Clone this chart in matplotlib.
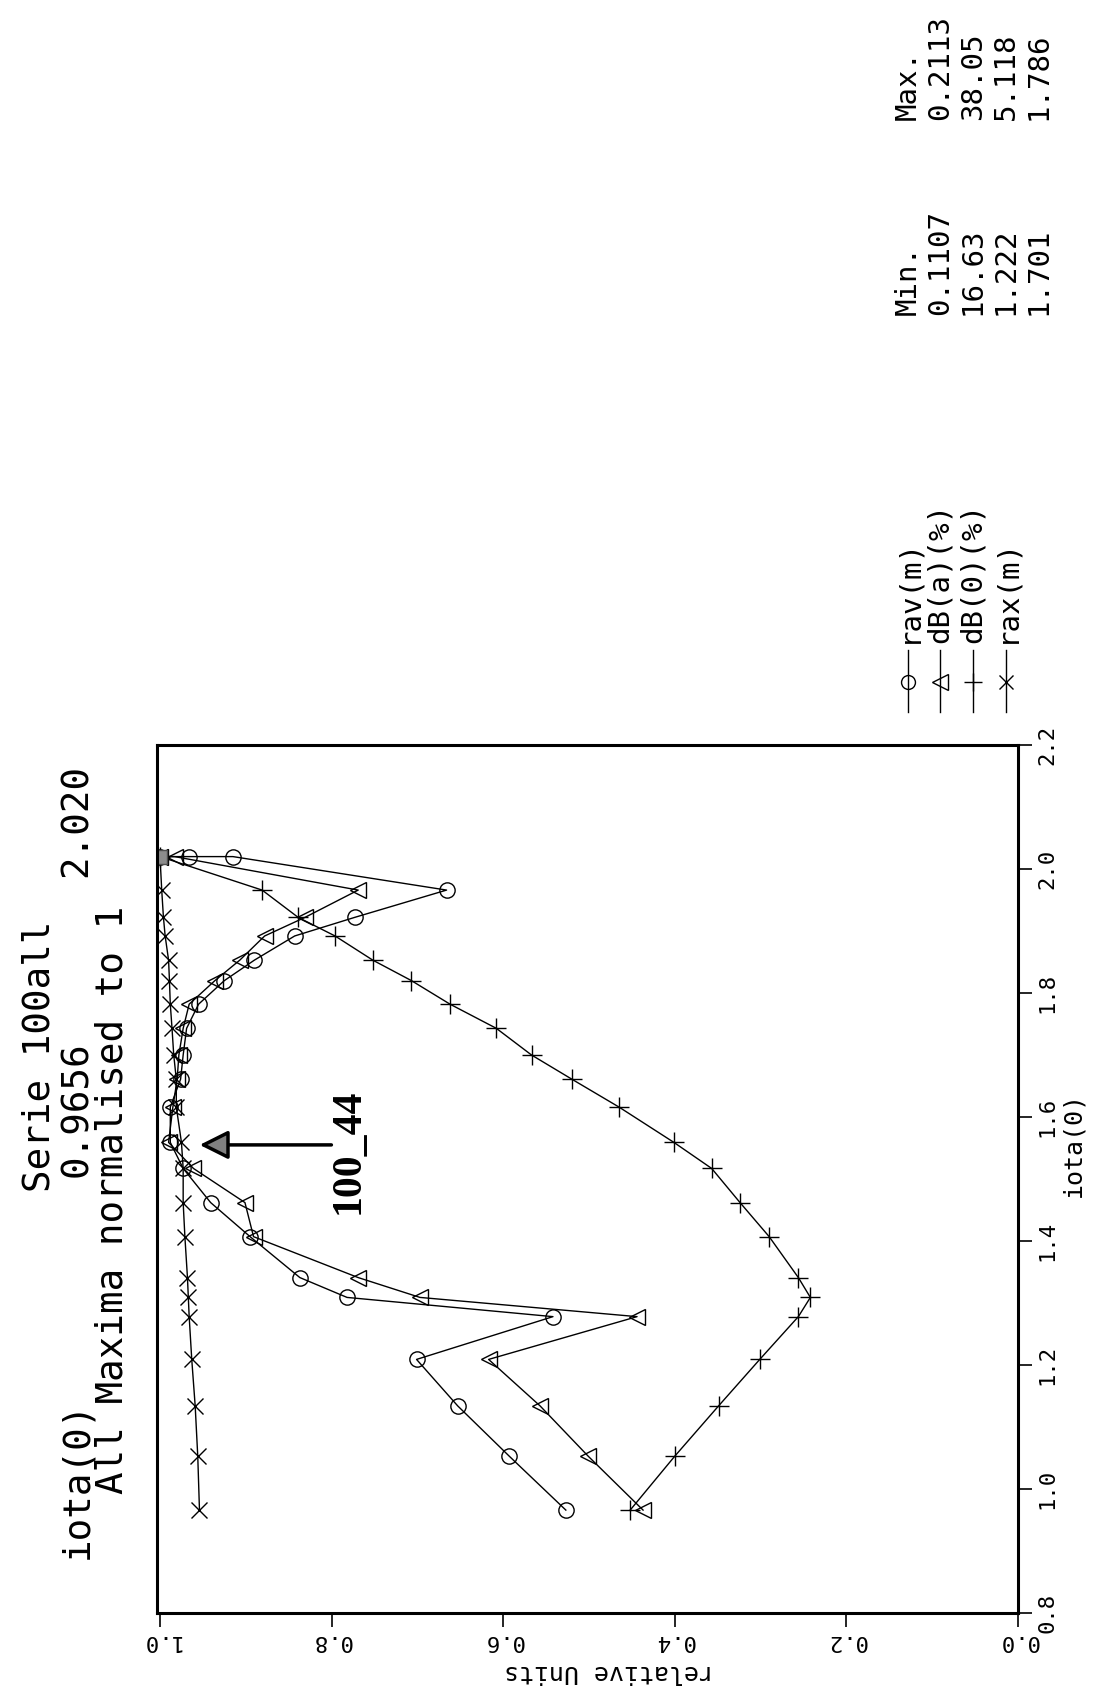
import numpy as np
import matplotlib.pyplot as plt

# iota(0) grid, shared by all four series
iota = [0.966, 1.053, 1.134, 1.209, 1.278, 1.309, 1.341, 1.407, 1.462, 1.517, 1.559,
        1.616, 1.661, 1.700, 1.743, 1.782, 1.820, 1.853, 1.892, 1.922, 1.966, 2.020]

# relative units (each series divided by its maximum)
rav_iota = iota + [2.020, 2.020]
rav = [0.527, 0.593, 0.653, 0.701, 0.542, 0.782, 0.837, 0.895, 0.941, 0.973, 0.988,
       0.988, 0.976, 0.973, 0.969, 0.955, 0.925, 0.890, 0.843, 0.773, 0.666, 0.915,
       0.966, 1.000]
dba_iota = iota + [2.020]
dba = [0.437, 0.501, 0.557, 0.617, 0.444, 0.697, 0.769, 0.891, 0.901, 0.961, 0.990,
       0.985, 0.980, 0.978, 0.973, 0.966, 0.936, 0.907, 0.878, 0.831, 0.769, 0.983,
       1.000]
db0 = [0.452, 0.400, 0.349, 0.301, 0.256, 0.242, 0.256, 0.290, 0.324, 0.357, 0.401,
       0.465, 0.520, 0.567, 0.608, 0.662, 0.707, 0.752, 0.796, 0.839, 0.881, 1.000]
rax = [0.954, 0.956, 0.959, 0.963, 0.966, 0.967, 0.968, 0.971, 0.973, 0.973, 0.975,
       0.981, 0.981, 0.984, 0.986, 0.988, 0.989, 0.990, 0.994, 0.996, 0.998, 1.000]

names = ['rav(m)', 'dB(a)(%)', 'dB(0)(%)', 'rax(m)']
mins = ['0.1107', '16.63', '1.222', '1.701']
maxs = ['0.2113', '38.05', '5.118', '1.786']

x_ticks = [0.0, 0.2, 0.4, 0.6, 0.8, 1.0]
y_ticks = [0.8, 1.0, 1.2, 1.4, 1.6, 1.8, 2.0, 2.2]

W, H = 1111, 1705
fig = plt.figure(figsize=(W / 100, H / 100), dpi=100)
plt.rcParams['font.family'] = 'DejaVu Sans'
MONO = 'DejaVu Sans Mono'


def fx(px):
    return px / W


def fy(py):
    return 1 - py / H


ax = fig.add_axes([fx(157), fy(1613), (1018 - 157) / W, (1613 - 745) / H])

kw = dict(color='black', linewidth=1.0, markerfacecolor='none', markeredgecolor='black',
          markeredgewidth=1.0)
ax.plot(rav, rav_iota, marker='o', markersize=11, **kw)
ax.plot(dba, dba_iota, marker='<', markersize=12, **kw)
ax.plot(db0, iota, marker='+', markersize=14, **kw)
ax.plot(rax, iota, marker='x', markersize=11, **kw)
# common maximum point
ax.plot([1.0], [2.020], marker='s', markersize=10, color='0.55', markeredgecolor='0.3')

ax.set_xlim(1.0035, 0.0)
ax.set_ylim(0.8, 2.2)
ax.set_xticks(x_ticks)
ax.set_xticklabels(['%.1f' % t for t in x_ticks], rotation=180, fontsize=16, family=MONO)
ax.set_yticks(y_ticks)
ax.set_yticklabels(['%.1f' % t for t in y_ticks], rotation=90, fontsize=16, va='center',
                   family=MONO)
ax.yaxis.tick_right()
ax.yaxis.set_label_position('right')
ax.tick_params(axis='both', direction='out', length=10, width=1.2)
ax.tick_params(axis='x', pad=3)
ax.tick_params(axis='y', pad=4)
ax.set_xlabel('relative Units', rotation=180, fontsize=18, family=MONO,
              ha='center', va='center')
ax.xaxis.set_label_coords(0.525, -0.068)
ax.set_ylabel('iota(0)', rotation=90, fontsize=18, family=MONO, ha='center', va='center')
ax.yaxis.set_label_coords(1.064, 0.54)
for s in ax.spines.values():
    s.set_linewidth(2.2)

# arrow marking 100_44
ax.annotate('', xy=(0.957, 1.555), xytext=(0.797, 1.555),
            arrowprops=dict(arrowstyle='-|>,head_length=1.1,head_width=0.55',
                            mutation_scale=16, linewidth=2.5,
                            facecolor='0.5', edgecolor='black'))
ax.text(0.780, 1.545, '100_44', rotation=90, fontsize=30, fontweight='bold',
        family='Liberation Serif', ha='center', va='center')

# header block (rotated, reading upward)
tkw = dict(rotation=90, rotation_mode='anchor', va='baseline', family=MONO, fontsize=27)
fig.text(fx(50), fy(1056), 'Serie 100all', ha='center', **tkw)
fig.text(fx(87), fy(1480), 'iota(0)', ha='center', **tkw)
fig.text(fx(87), fy(1109), '0.9656', ha='center', **tkw)
fig.text(fx(87), fy(820), '2.020', ha='center', **tkw)
fig.text(fx(123), fy(1200), 'All Maxima normalised to 1', ha='center', **tkw)

# legend block
lkw = dict(rotation=90, rotation_mode='anchor', va='center', family=MONO, fontsize=21)
rows_x = [908, 940, 973, 1006]
markers = ['o', '<', '+', 'x']
sizes = [10, 11, 13, 10]
for xr, m, ms, name in zip(rows_x, markers, sizes, names):
    fig.add_artist(plt.Line2D([fx(xr), fx(xr)], [fy(712), fy(650)], color='black',
                              linewidth=1.0, transform=fig.transFigure))
    fig.add_artist(plt.Line2D([fx(xr)], [fy(682)], marker=m, markersize=ms,
                              markerfacecolor='none', markeredgecolor='black',
                              transform=fig.transFigure))
    fig.text(fx(xr), fy(643), name, ha='left', **lkw)

# min / max table: header line first, then one line per series
tab_x = [908, 940, 973, 1006, 1039]
for xr, lo, hi in zip(tab_x, ['Min.'] + mins, ['Max.'] + maxs):
    fig.text(fx(xr), fy(315), lo, ha='left', **lkw)
    fig.text(fx(xr), fy(120), hi, ha='left', **lkw)

fig.savefig('out.png', dpi=100)
